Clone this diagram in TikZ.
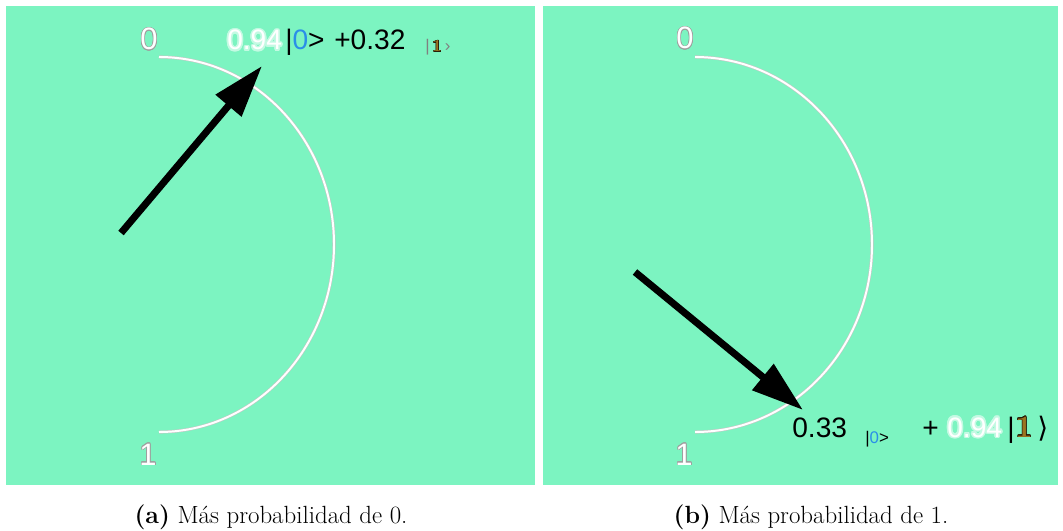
\documentclass[tikz,border=0pt]{standalone}
\usepackage{fontspec}
\usepackage{contour}
\usetikzlibrary{arrows.meta}
\newfontfamily\appfont{Liberation Sans}
\newfontfamily\symfont{DejaVu Sans}
\definecolor{mintbg}{HTML}{7CF4C1}
\definecolor{ketblue}{HTML}{2A8FE8}
\definecolor{onebrown}{HTML}{9A7420}
\contourlength{0.45pt}
\newcommand{\glowtext}[1]{\contourlength{1.1pt}\contour{white!55!mintbg}{\textcolor{white}{#1}}}
\newcommand{\rimtext}[1]{\contour{gray!75}{\textcolor{white}{#1}}}
\newcommand{\brownone}[1]{\contourlength{0.35pt}\contour{black!75!onebrown}{\textcolor{onebrown}{\bfseries #1}}}
\tikzset{
    panel/.style={fill=mintbg, draw=none},
    rimarc/.style={draw=gray!45, double=white, double distance=1.4pt, line width=0.4pt},
    statearrow/.style={line width=5pt, -{Triangle[length=37pt, width=23pt]}, black},
    axislabel/.style={font=\appfont\fontsize{22}{24}\selectfont, inner sep=0pt, anchor=base},
    ampl/.style={font=\appfont\fontsize{20}{22}\selectfont, inner sep=0pt, anchor=base west},
    smallket/.style={font=\appfont\fontsize{12}{14}\selectfont, inner sep=0pt, anchor=base west},
    subcap/.style={font=\fontsize{17.7}{20}\selectfont, inner sep=0pt, anchor=base}
}
\begin{document}
\begin{tikzpicture}[x=0.025cm, y=-0.025cm]
    \useasboundingbox (0,0) rectangle (1063,531);
    \fill[panel] (6,6) rectangle (535,485);
    \fill[panel] (543,6) rectangle (1058,485);

    \coordinate (arcA) at (159,57);
    \coordinate (arcB) at (695,57);
    \draw[rimarc] (arcA) arc[start angle=-90, end angle=90, x radius=175, y radius=187.5];
    \draw[rimarc] (arcB) arc[start angle=-90, end angle=90, x radius=177, y radius=187.5];

    \node[axislabel] (zeroA) at (149,50) {\rimtext{0}};
    \node[axislabel] (oneA) at (148,465) {\rimtext{1}};
    \node[axislabel] (zeroB) at (685,49) {\rimtext{0}};
    \node[axislabel] (oneB) at (684,465) {\rimtext{1}};

    \node[ampl] (ampA0) at (227,50) {\glowtext{0.94}};
    \node[ampl] (ketA0) at (285,50) {|\textcolor{ketblue}{0}>};
    \node[ampl] (ampA1) at (334,50) {+0.32};
    \node[smallket] (ketA1) at (425,52) {\textcolor{gray}{|}\,{\normalfont\fontsize{12}{14}\selectfont\brownone{1}}\,\textcolor{gray}{›}};

    \node[ampl] (ampB0) at (792,437) {0.33};
    \node[smallket] (ketB0) at (865,443) {|\textcolor{ketblue}{0}>};
    \node[ampl] (plusB) at (922,437) {+};
    \node[ampl] (ampB1) at (947,437) {\glowtext{0.94}};
    \node[ampl] (barB1) at (1007,437) {|};
    \node[ampl] (oneB1) at (1015,437) {\normalfont\fontsize{22}{24}\selectfont\brownone{1}};
    \node[ampl] (closeB1) at (1037,437) {\symfont\fontsize{20}{22}\selectfont ⟩};

    \coordinate (tailA) at (121,233);
    \coordinate (tipA) at (262,66);
    \coordinate (tailB) at (635,272);
    \coordinate (tipB) at (803,410);
    \draw[statearrow] (tailA) -- (tipA);
    \draw[statearrow] (tailB) -- (tipB);

    \node[subcap] (capA) at (271,523) {\textbf{(a)} Más probabilidad de 0.};
    \node[subcap] (capB) at (811,523) {\textbf{(b)} Más probabilidad de 1.};
\end{tikzpicture}
\end{document}
